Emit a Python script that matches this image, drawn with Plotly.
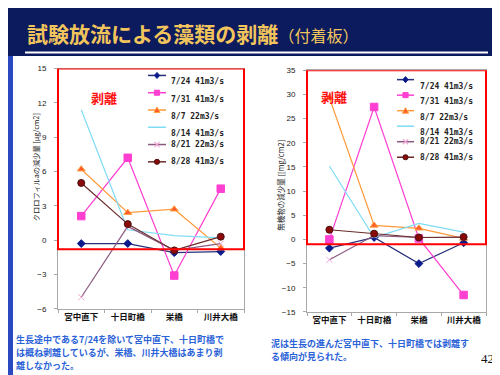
import plotly.graph_objects as go

# ---------------- data ----------------
sites = ["宮中直下", "十日町橋", "栄橋", "川井大橋"]
series_names = ["7/24 41m3/s", "7/31 41m3/s", "8/7 22m3/s", "8/14 41m3/s", "8/21 22m3/s", "8/28 41m3/s"]

# chlorophyll-a decrease [μg/cm2]
chl_0724 = [-0.3, -0.3, -1.1, -1.0]
chl_0731 = [2.1, 7.2, -3.1, 4.5]
chl_0807 = [6.2, 2.4, 2.7, -0.7]
chl_0814 = [11.4, 0.9, 0.4, 0.2]
chl_0821 = [-5.0, 1.2, -0.9, -0.3]
chl_0828 = [5.0, 1.4, -0.9, 0.3]

# inorganic matter decrease [mg/cm2]
ino_0724 = [-1.8, 0.4, -5.0, -0.7]
ino_0731 = [0.0, 27.4, 0.2, -11.5]
ino_0807 = [29.3, 2.9, 2.3, 0.2]
ino_0814 = [15.2, 0.4, 3.3, 1.5]
ino_0821 = [-4.2, 0.8, 0.4, 0.4]
ino_0828 = [2.0, 1.2, 0.4, 0.5]

left_ticks = [-6, -3, 0, 3, 6, 9, 12, 15]
right_ticks = [-15, -10, -5, 0, 5, 10, 15, 20, 25, 30, 35]

chl_series = [chl_0724, chl_0731, chl_0807, chl_0814, chl_0821, chl_0828]
ino_series = [ino_0724, ino_0731, ino_0807, ino_0814, ino_0821, ino_0828]

left_note = ["生長途中である7/24を除いて宮中直下、十日町橋で",
             "は概ね剥離しているが、栄橋、川井大橋はあまり剥",
             "離しなかった。"]
right_note = ["泥は生長の進んだ宮中直下、十日町橋では剥離す",
              "る傾向が見られた。"]

# ---------------- styles ----------------
styles = [
    dict(line="#26307a", mode="lines+markers", symbol="diamond", size=6, fill="#0a1a8a", edge="#0a1a8a", key="diamond"),
    dict(line="#ff3fd2", mode="lines+markers", symbol="square", size=7.5, fill="#ff3fd2", edge="#ff3fd2", key="square"),
    dict(line="#ff9a3a", mode="lines+markers", symbol="triangle-up", size=7, fill="#ff5a2a", edge="#ffa040", key="triangle"),
    dict(line="#7fdcf5", mode="lines", symbol="circle", size=4, fill="#7fdcf5", edge="#7fdcf5", key=None),
    dict(line="#8a5a80", mode="lines+markers", symbol="x-thin", size=6, fill="#f0a8d8", edge="#f0a8d8", key="x"),
    dict(line="#6a2a2a", mode="lines+markers", symbol="circle", size=7, fill="#8a0a0a", edge="#4a1010", key="circle"),
]

W, H = 500, 375
def px(x):
    return x / W
def py(y):
    return 1 - y / H

fig = go.Figure()

for name, vals, st in zip(series_names, chl_series, styles):
    fig.add_trace(go.Scatter(
        x=sites, y=vals, name=name, mode=st["mode"], xaxis="x", yaxis="y",
        line=dict(color=st["line"], width=1.2),
        marker=dict(symbol=st["symbol"], size=st["size"], color=st["fill"],
                    line=dict(color=st["edge"], width=1)),
        showlegend=False))
for name, vals, st in zip(series_names, ino_series, styles):
    fig.add_trace(go.Scatter(
        x=sites, y=vals, name=name, mode=st["mode"], xaxis="x2", yaxis="y2",
        line=dict(color=st["line"], width=1.2),
        marker=dict(symbol=st["symbol"], size=st["size"], color=st["fill"],
                    line=dict(color=st["edge"], width=1)),
        showlegend=False))

tickfont = dict(family="Liberation Sans, Arial", size=8, color="#222222")
catfont = dict(family="Noto Sans CJK JP", size=8.5, color="#111111", weight="bold")
axis_common = dict(showline=True, linecolor="#a8a8a8", linewidth=1, mirror=True,
                   showgrid=False, zeroline=False)

shapes = []
annotations = []

# slide white area
shapes.append(dict(type="rect", xref="paper", yref="paper", x0=px(5), x1=px(496), y0=py(373), y1=py(45),
                   fillcolor="white", line=dict(width=0), layer="below"))
# side strips
shapes.append(dict(type="rect", xref="paper", yref="paper", x0=0, x1=px(5), y0=0, y1=py(45),
                   fillcolor="#2a48c0", line=dict(width=0), layer="below"))
shapes.append(dict(type="rect", xref="paper", yref="paper", x0=px(496), x1=1, y0=0, y1=py(45),
                   fillcolor="#2a48c0", line=dict(width=0), layer="below"))
# title underline
shapes.append(dict(type="line", xref="paper", yref="paper", x0=px(17), x1=px(480), y0=py(41.5), y1=py(41.5),
                   line=dict(color="white", width=2)))

# red frames
shapes.append(dict(type="rect", xref="x domain", yref="y", x0=0, x1=1, y0=-0.8, y1=15,
                   line=dict(color="#ff0000", width=2)))
shapes.append(dict(type="rect", xref="x2 domain", yref="y2", x0=0, x1=1, y0=-1.0, y1=35,
                   line=dict(color="#ff0000", width=2)))

# title
annotations.append(dict(xref="paper", yref="paper", x=px(17), y=py(22), xanchor="left", yanchor="middle",
                        showarrow=False,
                        text="<b>試験放流による藻類の剥離</b><span style='font-size:16px'>（付着板）</span>",
                        font=dict(family="Noto Sans CJK JP", size=21, color="#f2c55c")))

# 剥離 labels
for cx, cy in [(81, 76), (326, 75)]:
    annotations.append(dict(xref="paper", yref="paper", x=px(cx), y=py(cy), showarrow=False,
                            text="<b>剥離</b>", font=dict(family="Noto Sans CJK JP", size=13, color="#ff1010")))

# y axis titles
annotations.append(dict(xref="paper", yref="paper", x=px(21), y=py(159), showarrow=False, textangle=-90,
                        text="クロロフィルaの減少量 [μg/cm2]",
                        font=dict(family="Noto Sans CJK JP", size=7.2, color="#222222")))
annotations.append(dict(xref="paper", yref="paper", x=px(273), y=py(178), showarrow=False, textangle=-90,
                        text="無機物の減少量 [[mg/cm2]",
                        font=dict(family="Noto Sans CJK JP", size=7.5, color="#222222")))


def key_shape(kind, cx, cy, fill, edge):
    r = 2.6
    if kind == "diamond":
        pts = [(cx, cy - r - 0.5), (cx + r, cy), (cx, cy + r + 0.5), (cx - r, cy)]
    elif kind == "square":
        pts = [(cx - r, cy - r), (cx + r, cy - r), (cx + r, cy + r), (cx - r, cy + r)]
    elif kind == "triangle":
        pts = [(cx, cy - r - 0.5), (cx + r + 0.5, cy + r), (cx - r - 0.5, cy + r)]
    elif kind == "circle":
        return [dict(type="circle", xref="paper", yref="paper", x0=px(cx - r), x1=px(cx + r),
                     y0=py(cy + r), y1=py(cy - r), fillcolor=fill, line=dict(color=edge, width=1))]
    elif kind == "x":
        return [dict(type="line", xref="paper", yref="paper", x0=px(cx - r), x1=px(cx + r),
                     y0=py(cy - r), y1=py(cy + r), line=dict(color=fill, width=1.2)),
                dict(type="line", xref="paper", yref="paper", x0=px(cx - r), x1=px(cx + r),
                     y0=py(cy + r), y1=py(cy - r), line=dict(color=fill, width=1.2))]
    else:
        return []
    path = "M " + " L ".join(f"{px(a):.5f},{py(b):.5f}" for a, b in pts) + " Z"
    return [dict(type="path", xref="paper", yref="paper", path=path, fillcolor=fill,
                 line=dict(color=edge, width=1))]


# manual legends
legend_specs = [(140, 158, 161, 65, 17.7), (389, 406, 410, 69.3, 15.9)]
for (lx0, lx1, tx, y0, dy) in legend_specs:
    for i, (name, st) in enumerate(zip(series_names, styles)):
        yy = y0 + i * dy
        shapes.append(dict(type="line", xref="paper", yref="paper", x0=px(lx0), x1=px(lx1),
                           y0=py(yy), y1=py(yy), line=dict(color=st["line"], width=1.5)))
        shapes.extend(key_shape(st["key"], (lx0 + lx1) / 2, yy, st["fill"], st["edge"]))
        annotations.append(dict(xref="paper", yref="paper", x=px(tx), y=py(yy), xanchor="left",
                                showarrow=False, text="<b>" + name + "</b>",
                                font=dict(family="DejaVu Sans Mono", size=8, color="#222222")))

# bottom notes
note_font = dict(family="Noto Sans CJK JP", size=9, color="#2a62d8")
for i, line in enumerate(left_note):
    annotations.append(dict(xref="paper", yref="paper", x=px(6), y=py(336 + 13 * i), xanchor="left",
                            yanchor="middle", showarrow=False, text="<b>" + line + "</b>", font=note_font))
for i, line in enumerate(right_note):
    annotations.append(dict(xref="paper", yref="paper", x=px(261), y=py(340 + 13 * i), xanchor="left",
                            yanchor="middle", showarrow=False, text="<b>" + line + "</b>", font=note_font))
annotations.append(dict(xref="paper", yref="paper", x=px(488), y=py(365), showarrow=False,
                        text="42", font=dict(family="Liberation Serif", size=13, color="#111111")))

fig.update_layout(
    width=W, height=H, autosize=False,
    margin=dict(l=0, r=0, t=0, b=0),
    paper_bgcolor="#0c1a5e", plot_bgcolor="white",
    showlegend=False,
    xaxis=dict(domain=[px(50), px(236)], anchor="y", type="category", range=[-0.5, 3.5],
               tickfont=catfont, ticks="outside", ticklen=3, tickcolor="#a8a8a8", tickson="boundaries",
               **axis_common),
    yaxis=dict(domain=[py(304), py(58)], anchor="x", range=[-6, 15], tickvals=left_ticks,
               tickfont=tickfont, ticks="outside", ticklen=3, tickcolor="#a8a8a8", ticklabelstandoff=6,
               **axis_common),
    xaxis2=dict(domain=[px(299), px(478)], anchor="y2", type="category", range=[-0.5, 3.5],
                tickfont=catfont, ticks="outside", ticklen=3, tickcolor="#a8a8a8", tickson="boundaries",
                **axis_common),
    yaxis2=dict(domain=[py(307.3), py(59.7)], anchor="x2", range=[-15, 35], tickvals=right_ticks,
                tickfont=tickfont, ticks="outside", ticklen=3, tickcolor="#a8a8a8", ticklabelstandoff=6,
                **axis_common),
    shapes=shapes,
    annotations=annotations,
)

fig.write_html("out.html")
